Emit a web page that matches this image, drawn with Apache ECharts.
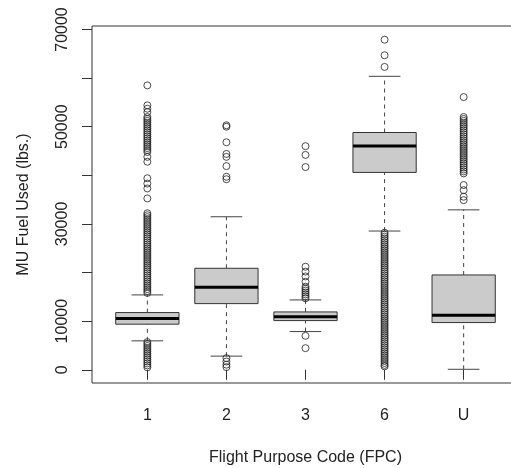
<!DOCTYPE html>
<html>
<head>
<meta charset="utf-8">
<script src="https://cdn.jsdelivr.net/npm/echarts@6/dist/echarts.min.js"></script>
<style>
  html, body { margin: 0; padding: 0; background: #fff; }
  #chart { width: 511px; height: 468px; }
</style>
</head>
<body>
<div id="chart"></div>
<script>
// 航班用途代码 vs 燃油消耗 箱线图（仿 R boxplot 风格）
const categories = ['1', '2', '3', '6', 'U'];

// 箱体五数：下须、Q1、中位数、Q3、上须
const whiskerLow = [5950, 2810, 7860, 28540, 100];
const q1 = [9380, 13610, 10120, 40600, 9710];
const median = [10530, 16980, 10900, 46060, 11230];
const q3 = [11770, 20880, 11900, 48810, 19510];
const whiskerHigh = [15400, 31480, 14370, 60370, 32900];

// 各组离群点（从图上读出，密集处按可见间距取值）
const outliers1 = [
  58500, 54400, 53700, 53000,
  52000, 51600, 51200, 50800, 50400, 50000, 49600, 49200, 48800, 48400,
  48000, 47600, 47200, 46800, 46400, 46000, 45600, 45200, 44800,
  43800, 42800, 39400, 38300, 37300, 35250,
  32200, 31800, 31400, 31000, 30600, 30200, 29800, 29400, 29000, 28600,
  28200, 27800, 27400, 27000, 26600, 26200, 25800, 25400, 25000, 24600,
  24200, 23800, 23400, 23000, 22600, 22200, 21800, 21400, 21000, 20600,
  20200, 19800, 19400, 19000, 18600, 18200, 17800, 17400, 17000, 16600,
  16200, 15800,
  5700, 5300, 4900, 4500, 4100, 3700, 3300, 2900, 2500, 2100, 1700, 1300, 900, 500
];
const outliers2 = [50300, 50000, 46800, 44400, 43800, 41900, 39700, 39200, 2400, 1700, 1050, 550];
const outliers3 = [
  46000, 44200, 41700, 21200, 20200, 19200, 18100,
  17100, 16700, 16300, 15900, 15500, 15100, 14700,
  6980, 4450
];
const outliers6 = [
  67900, 64700, 62300,
  28200, 27800, 27400, 27000, 26600, 26200, 25800, 25400, 25000, 24600,
  24200, 23800, 23400, 23000, 22600, 22200, 21800, 21400, 21000, 20600,
  20200, 19800, 19400, 19000, 18600, 18200, 17800, 17400, 17000, 16600,
  16200, 15800, 15400, 15000, 14600, 14200, 13800, 13400, 13000, 12600,
  12200, 11800, 11400, 11000, 10600, 10200, 9800, 9400, 9000, 8600,
  8200, 7800, 7400, 7000, 6600, 6200, 5800, 5400, 5000, 4600,
  4200, 3800, 3400, 3000, 2600, 2200, 1800, 1400, 1000, 700
];
const outliersU = [
  56100,
  52000, 51600, 51200, 50800, 50400, 50000, 49600, 49200, 48800, 48400,
  48000, 47600, 47200, 46800, 46400, 46000, 45600, 45200, 44800, 44400,
  44000, 43600, 43200, 42800, 42400, 42000, 41600, 41200, 40800, 40400,
  38000, 36950, 35600, 34900
];
const outlierGroups = [outliers1, outliers2, outliers3, outliers6, outliersU];

// 坐标轴刻度
const yTicks = [0, 10000, 20000, 30000, 40000, 50000, 60000, 70000];
const yLabels = [0, 10000, 30000, 50000, 70000];
const xTicks = [1, 2, 3, 4, 5];

const FONT = 'Liberation Sans, Arial, sans-serif';
const INK = '#222';

const boxData = categories.map((c, i) => [i + 1, whiskerLow[i], q1[i], median[i], q3[i], whiskerHigh[i]]);
const outlierData = [];
outlierGroups.forEach((group, i) => {
  group.forEach(v => outlierData.push([i + 1, v]));
});

const chart = echarts.init(document.getElementById('chart'), null, { renderer: 'canvas' });

const option = {
  animation: false,
  backgroundColor: '#fff',
  grid: {
    left: 92,
    top: 26,
    width: 427,
    bottom: 85,
    outerBoundsMode: 'none',
    containLabel: false,
    show: true,
    borderColor: '#333',
    borderWidth: 1,
    backgroundColor: 'transparent'
  },
  xAxis: {
    type: 'value',
    min: 0.3,
    max: 5.7,
    name: 'Flight Purpose Code (FPC)',
    nameLocation: 'middle',
    nameGap: 67,
    nameTextStyle: { fontFamily: FONT, fontSize: 16, color: INK },
    axisLine: { show: false },
    splitLine: { show: false },
    axisTick: { show: true, customValues: xTicks, length: 10, lineStyle: { color: '#333' } },
    axisLabel: {
      customValues: xTicks,
      margin: 25,
      fontFamily: FONT,
      fontSize: 16,
      color: INK,
      formatter: v => categories[Math.round(v) - 1]
    }
  },
  yAxis: {
    type: 'value',
    min: -2720,
    max: 70720,
    name: 'MU Fuel Used (lbs.)',
    nameLocation: 'middle',
    nameGap: 60,
    nameTextStyle: { fontFamily: FONT, fontSize: 16, color: INK },
    axisLine: { show: false },
    splitLine: { show: false },
    axisTick: { show: true, customValues: yTicks, length: 10, lineStyle: { color: '#333' } },
    axisLabel: {
      customValues: yLabels,
      rotate: 90,
      margin: 21,
      fontFamily: FONT,
      fontSize: 16,
      color: INK,
      formatter: v => String(v)
    }
  },
  series: [
    {
      // 箱体：虚线须、端线、灰色箱体、粗中位线
      type: 'custom',
      data: boxData,
      encode: { x: 0, y: [1, 2, 3, 4, 5] },
      renderItem(params, api) {
        const x = api.value(0);
        const lo = api.coord([x, api.value(1)]);
        const b1 = api.coord([x, api.value(2)]);
        const md = api.coord([x, api.value(3)]);
        const b3 = api.coord([x, api.value(4)]);
        const hi = api.coord([x, api.value(5)]);
        const boxW = api.size([0.8, 0])[0];
        const capW = boxW / 2;
        const cx = lo[0];
        const dash = { stroke: '#444', lineWidth: 1, lineDash: [4, 4] };
        const solid = { stroke: '#444', lineWidth: 1 };
        return {
          type: 'group',
          children: [
            { type: 'line', shape: { x1: cx, y1: lo[1], x2: cx, y2: b1[1] }, style: dash },
            { type: 'line', shape: { x1: cx, y1: b3[1], x2: cx, y2: hi[1] }, style: dash },
            { type: 'line', shape: { x1: cx - capW / 2, y1: lo[1], x2: cx + capW / 2, y2: lo[1] }, style: solid },
            { type: 'line', shape: { x1: cx - capW / 2, y1: hi[1], x2: cx + capW / 2, y2: hi[1] }, style: solid },
            {
              type: 'rect',
              shape: { x: cx - boxW / 2, y: b3[1], width: boxW, height: b1[1] - b3[1] },
              style: { fill: '#cbcbcb', stroke: '#333', lineWidth: 1 }
            },
            {
              type: 'line',
              shape: { x1: cx - boxW / 2, y1: md[1], x2: cx + boxW / 2, y2: md[1] },
              style: { stroke: '#000', lineWidth: 3 }
            }
          ]
        };
      }
    },
    {
      // 离群点：空心圆
      type: 'scatter',
      data: outlierData,
      symbol: 'circle',
      symbolSize: 7,
      z: 3,
      itemStyle: { color: 'rgba(0,0,0,0)', borderColor: '#222', borderWidth: 1 }
    }
  ]
};

chart.setOption(option);
</script>
</body>
</html>
